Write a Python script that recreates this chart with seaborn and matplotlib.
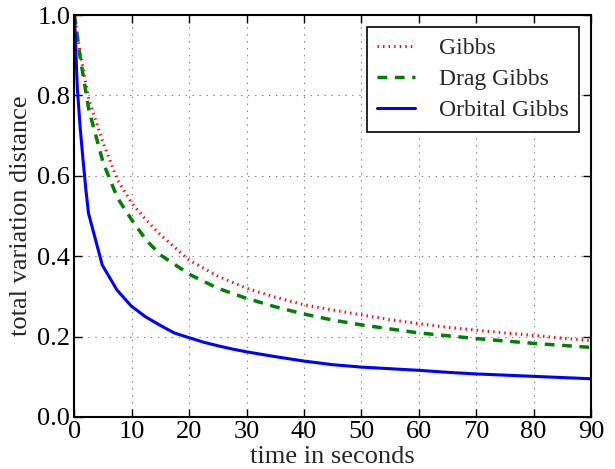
import numpy as np
import pandas as pd
import matplotlib
matplotlib.use("Agg")
import matplotlib.pyplot as plt
import seaborn as sns

# values
t_gibbs = [0, 1, 2.5, 5, 7.5, 10, 12.5, 15, 20, 25, 30, 35, 40, 45, 50,
           55, 60, 65, 70, 75, 80, 85, 90]
gibbs = [1.0, 0.905, 0.79, 0.682, 0.59, 0.532, 0.49, 0.453, 0.39, 0.35, 0.32,
         0.298, 0.279, 0.266, 0.254, 0.242, 0.232, 0.223, 0.216, 0.209, 0.203,
         0.196, 0.19]
drag_gibbs = [1.0, 0.895, 0.765, 0.633, 0.545, 0.49, 0.44, 0.403, 0.355, 0.32,
              0.295, 0.274, 0.256, 0.241, 0.229, 0.219, 0.209, 0.202, 0.195,
              0.189, 0.183, 0.178, 0.173]

t_orbital = [0, 0.5, 1.0, 1.5, 2.0, 2.45, 4.85, 7.4, 9.9, 12.3, 14.8, 17.4,
             20, 22.5, 25, 27.5, 30, 35, 40, 45, 50, 55, 60, 65, 70, 75, 80,
             85, 90]
orbital = [1.0, 0.82, 0.72, 0.64, 0.565, 0.507, 0.378, 0.316, 0.276, 0.25,
           0.229, 0.209, 0.197, 0.186, 0.177, 0.169, 0.162, 0.15, 0.139,
           0.13, 0.124, 0.12, 0.116, 0.111, 0.107, 0.104, 0.101, 0.098, 0.095]

sns.set_style("ticks")
plt.rcParams["font.family"] = ["Liberation Serif", "DejaVu Serif"]
plt.rcParams["font.size"] = 19
plt.rcParams["lines.scale_dashes"] = False

fig = plt.figure(figsize=(6.15, 4.69), dpi=100)
ax = fig.add_axes([0.121, 0.111, 0.840, 0.857])

sns.lineplot(x=t_gibbs, y=gibbs, ax=ax, color="red", lw=2.2,
             linestyle=(0, (1, 3)), label="Gibbs")
sns.lineplot(x=t_gibbs, y=drag_gibbs, ax=ax, color="green", lw=2.5,
             linestyle=(0, (7, 5.5)), label="Drag Gibbs")
sns.lineplot(x=t_orbital, y=orbital, ax=ax, color="blue", lw=2.2,
             label="Orbital Gibbs")

ax.set_xlim(0, 90)
ax.set_ylim(0, 1)
ax.set_xticks(range(0, 91, 10))
ax.set_yticks(np.arange(0, 1.01, 0.2))
ax.set_yticklabels(["0.0", "0.2", "0.4", "0.6", "0.8", "1.0"])
ax.grid(True, linestyle=(0, (1, 4)), color="gray", lw=0.8)
ax.tick_params(direction="in", top=True, right=True, length=6, width=1,
               labelsize=19, colors="black", pad=3)
for s in ax.spines.values():
    s.set_linewidth(1.5)
    s.set_color("black")

ax.set_xlabel("time in seconds", fontsize=19, labelpad=2)
ax.set_ylabel("total variation distance", fontsize=19, labelpad=4)

leg = ax.legend(loc="upper right", fontsize=17, fancybox=False, frameon=True,
                edgecolor="black", handlelength=1.6, borderaxespad=0.5,
                labelspacing=0.4, handletextpad=1.0, borderpad=0.45)
leg.get_frame().set_linewidth(1.2)
leg.get_frame().set_alpha(1)

fig.savefig("out.png", dpi=100)
